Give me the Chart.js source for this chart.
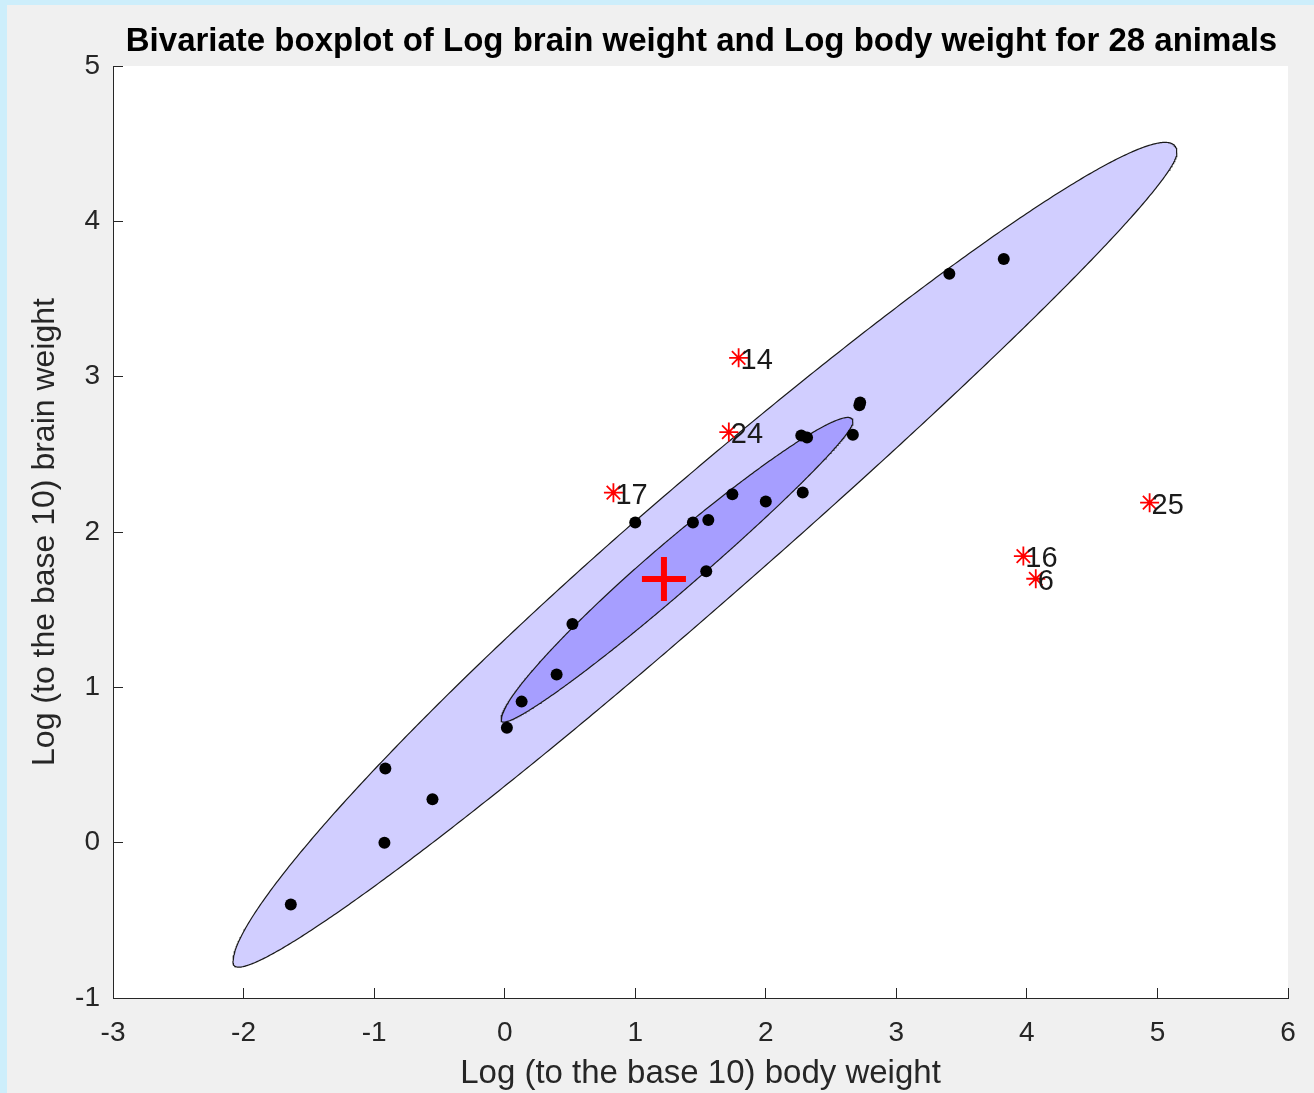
<!DOCTYPE html>
<html>
<head>
<meta charset="utf-8">
<title>Bivariate boxplot</title>
<script src="https://cdn.jsdelivr.net/npm/chart.js@4.4.1/dist/chart.umd.min.js"></script>
<style>
  html, body { margin: 0; padding: 0; width: 1314px; height: 1093px; overflow: hidden; background: #cdeefb; }
  #frame { position: absolute; left: 7px; top: 5px; right: 0; bottom: 0; background: #f0f0f0; }
  #wrap { position: absolute; left: 0; top: 0; width: 1314px; height: 1093px; }
</style>
</head>
<body>
<div id="frame"></div>
<div id="wrap"><canvas id="c" width="1314" height="1093"></canvas></div>
<script>
// log10 body weight (kg) and log10 brain weight (g) of the 28 animals
const animalIds = [1, 2, 3, 4, 5, 6, 7, 8, 9, 10, 11, 12, 13, 14, 15, 16, 17, 18, 19, 20, 21, 22, 23, 24, 25, 26, 27, 28];
const logBody  = [0.130, 2.667, 1.560, 1.442, 0.017, 4.068, 3.406, 2.272, 2.717, 1.000, 0.519, 2.723, 2.316, 1.792,
                  3.823, 3.973, 0.833, 1.544, -0.921, -1.638, 0.398, 1.744, 2.000, 1.717, 4.940, -0.553, -0.914, 2.283];
const logBrain = [0.908, 2.626, 2.077, 2.061, 0.740, 1.699, 3.663, 2.622, 2.816, 2.061, 1.408, 2.833, 2.609, 3.121,
                  3.757, 1.845, 2.253, 1.748, 0.000, -0.398, 1.083, 2.243, 2.196, 2.643, 2.189, 0.279, 0.477, 2.255];
const outlierIds = [6, 14, 16, 17, 24, 25];

// robust centre of the data
const centre = [1.22, 1.698];

// hinge and fence curves: a point on the main axis, the axis slope,
// half-lengths along the axis [towards upper right, towards lower left]
// and vertical half-widths [above the axis, below the axis]
const hingeAxisPoint = [1.22, 1.679];
const hingeSlope = 0.7112;
const hingeLengths = [1.448, 1.248];
const hingeWidths = [0.245, 0.165];
const fenceAxisPoint = [1.22, 1.610];
const fenceSlope = 0.7206;
const fenceLengths = [3.929, 3.301];
const fenceWidths = [0.620, 0.395];

const xTicks = [-3, -2, -1, 0, 1, 2, 3, 4, 5, 6];
const yTicks = [-1, 0, 1, 2, 3, 4, 5];

const titleText = 'Bivariate boxplot of Log brain weight and Log body weight for 28 animals';
const xTitle = 'Log (to the base 10) body weight';
const yTitle = 'Log (to the base 10) brain weight';

const FONT = '"Liberation Sans", Arial, Helvetica, sans-serif';

// smooth closed outline built from two half-lengths and two half-widths
function boxOutline(p, slope, len, wid) {
  const pts = [];
  for (let deg = 0; deg <= 360; deg += 0.5) {
    const t = deg * Math.PI / 180;
    const ct = Math.cos(t), st = Math.sin(t);
    const a = (ct >= 0 ? len[0] : len[1]) * ct;
    const b = (st >= 0 ? wid[0] : wid[1]) * st;
    pts.push({ x: p[0] + a, y: p[1] + slope * a + b });
  }
  return pts;
}

const inliers = [], outliers = [];
animalIds.forEach((id, i) => {
  const p = { x: logBody[i], y: logBrain[i], id: id };
  (outlierIds.includes(id) ? outliers : inliers).push(p);
});

// white plotting area
const plotBackground = {
  id: 'plotBackground',
  beforeDraw(chart) {
    const { ctx, chartArea: a } = chart;
    ctx.save();
    ctx.fillStyle = '#ffffff';
    ctx.fillRect(a.left, a.top, a.right - a.left, a.bottom - a.top);
    ctx.restore();
  }
};

// fills the inside of each outline before its edge is stroked
const outlineFill = {
  id: 'outlineFill',
  beforeDatasetDraw(chart, args) {
    const ds = chart.data.datasets[args.index];
    if (!ds.insideColor) return;
    const { ctx, chartArea: a } = chart;
    const pts = args.meta.data;
    ctx.save();
    ctx.beginPath();
    ctx.rect(a.left, a.top, a.right - a.left, a.bottom - a.top);
    ctx.clip();
    ctx.beginPath();
    pts.forEach((p, i) => (i ? ctx.lineTo(p.x, p.y) : ctx.moveTo(p.x, p.y)));
    ctx.closePath();
    ctx.fillStyle = ds.insideColor;
    ctx.fill();
    ctx.restore();
  }
};

// heading centred over the plotting area
const plotHeading = {
  id: 'plotHeading',
  afterDraw(chart) {
    const { ctx, chartArea: a } = chart;
    ctx.save();
    ctx.font = 'bold 33px ' + FONT;
    ctx.fillStyle = '#000000';
    ctx.textAlign = 'center';
    ctx.textBaseline = 'middle';
    ctx.fillText(titleText, (a.left + a.right) / 2 + 1, 42);
    ctx.restore();
  }
};

// animal numbers beside the outlying points
const outlierNumbers = {
  id: 'outlierNumbers',
  afterDatasetsDraw(chart) {
    const { ctx } = chart;
    const idx = chart.data.datasets.findIndex(d => d.label === 'outliers');
    const meta = chart.getDatasetMeta(idx);
    ctx.save();
    ctx.font = '29px ' + FONT;
    ctx.fillStyle = '#1a1a1a';
    ctx.textAlign = 'left';
    ctx.textBaseline = 'middle';
    meta.data.forEach((el, i) => {
      ctx.fillText(String(outliers[i].id), el.x + 2, el.y + 3);
    });
    ctx.restore();
  }
};

const axisColor = '#262626';

new Chart(document.getElementById('c'), {
  type: 'scatter',
  data: {
    datasets: [
      {
        label: 'centre',
        data: [{ x: centre[0], y: centre[1] }],
        pointStyle: 'cross',
        pointRadius: 22,
        pointBorderWidth: 6,
        borderColor: '#ff0000',
        backgroundColor: '#ff0000',
        order: 0
      },
      {
        label: 'outliers',
        data: outliers,
        pointStyle: 'star',
        pointRadius: 9.5,
        pointBorderWidth: 1.8,
        borderColor: '#ff0000',
        backgroundColor: '#ff0000',
        order: 1
      },
      {
        label: 'animals',
        data: inliers,
        pointStyle: 'circle',
        pointRadius: 6,
        pointBorderWidth: 0,
        backgroundColor: '#000000',
        borderColor: '#000000',
        order: 2
      },
      {
        type: 'line',
        label: 'hinge',
        data: boxOutline(hingeAxisPoint, hingeSlope, hingeLengths, hingeWidths),
        insideColor: '#a69eff',
        borderColor: '#1a1a1a',
        borderWidth: 1.2,
        fill: false,
        pointRadius: 0,
        tension: 0,
        order: 3
      },
      {
        type: 'line',
        label: 'fence',
        data: boxOutline(fenceAxisPoint, fenceSlope, fenceLengths, fenceWidths),
        insideColor: '#d1ceff',
        borderColor: '#1a1a1a',
        borderWidth: 1.2,
        fill: false,
        pointRadius: 0,
        tension: 0,
        order: 4
      }
    ]
  },
  options: {
    responsive: false,
    animation: false,
    events: [],
    layout: { autoPadding: false, padding: { left: 0, right: 26, top: 66, bottom: 0 } },
    plugins: {
      legend: { display: false },
      title: { display: false },
      tooltip: { enabled: false }
    },
    scales: {
      x: {
        type: 'linear',
        min: -3, max: 6,
        afterBuildTicks: s => { s.ticks = xTicks.map(v => ({ value: v })); },
        afterFit: s => { s.height = 95; s.paddingLeft = 0; s.paddingRight = 0; },
        grid: { drawOnChartArea: false, drawTicks: true, tickLength: -10, color: axisColor, tickColor: axisColor, tickWidth: 1 },
        border: { display: true, color: axisColor, width: 1 },
        ticks: { color: '#262626', font: { family: FONT, size: 28, lineHeight: 1.2 }, padding: 28, maxRotation: 0 },
        title: { display: true, text: xTitle, color: '#262626', font: { family: FONT, size: 33, lineHeight: 1.2 }, padding: { top: 0, bottom: -1 } }
      },
      y: {
        type: 'linear',
        min: -1, max: 5,
        afterBuildTicks: s => { s.ticks = yTicks.map(v => ({ value: v })); },
        afterFit: s => { s.width = 113; s.paddingTop = 0; s.paddingBottom = 0; },
        grid: { drawOnChartArea: false, drawTicks: true, tickLength: -10, color: axisColor, tickColor: axisColor, tickWidth: 1 },
        border: { display: true, color: axisColor, width: 1 },
        ticks: { color: '#262626', font: { family: FONT, size: 28, lineHeight: 1.2 }, padding: 23 },
        title: { display: true, text: yTitle, color: '#262626', font: { family: FONT, size: 32, lineHeight: 1.2 }, padding: { top: 26, bottom: 0 } }
      }
    }
  },
  plugins: [plotBackground, outlineFill, plotHeading, outlierNumbers]
});
</script>
</body>
</html>
